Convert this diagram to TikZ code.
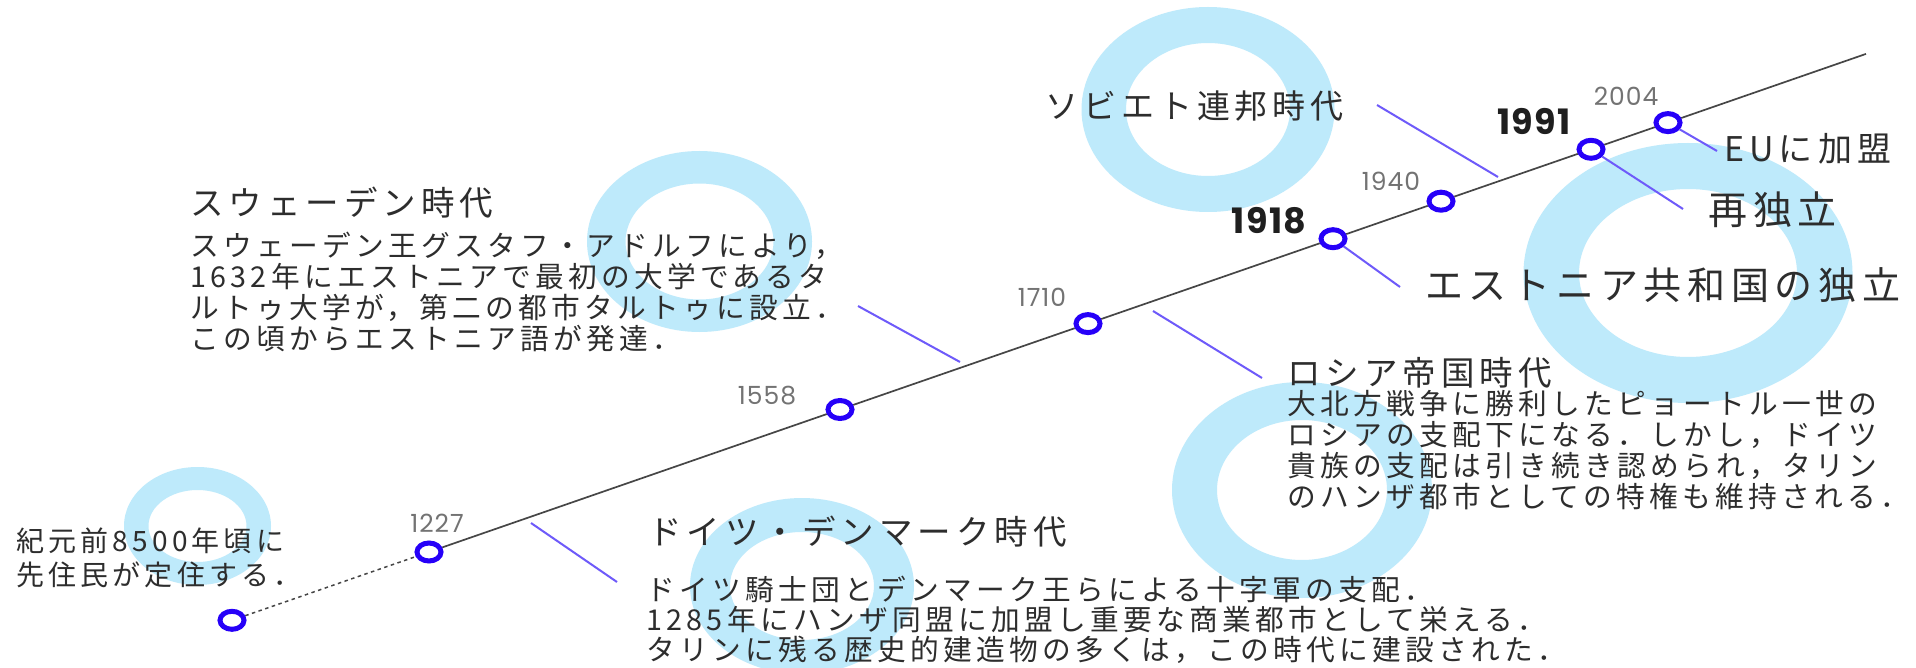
\documentclass[tikz,border=0pt]{standalone}
\usepackage{fontspec}
\usetikzlibrary{shapes.geometric}
\newfontfamily\jpfont{Noto Sans CJK JP}[LetterSpace=15]
\newfontfamily\yrfont{Poppins}[Numbers=Monospaced, LetterSpace=4]
\definecolor{ringblue}{RGB}{190,234,251}
\definecolor{dotblue}{RGB}{38,0,248}
\definecolor{connviolet}{RGB}{110,90,250}
\definecolor{linegray}{RGB}{70,70,70}
\definecolor{yeargray}{RGB}{115,115,115}
\definecolor{textdark}{RGB}{45,45,45}
\tikzset{
  ring/.style={fill=ringblue, even odd rule},
  tl/.style={draw=linegray, line width=1.7pt},
  tldash/.style={draw=linegray, line width=1.5pt, dash pattern=on 3.5pt off 3.5pt},
  dotnode/.style={ellipse, draw=dotblue, line width=5pt, fill=white, minimum width=24pt, minimum height=18pt, inner sep=0pt},
  conn/.style={draw=connviolet, line width=2pt},
  yr/.style={font=\yrfont\fontsize{25}{30}\selectfont, text=yeargray, inner sep=0pt},
  yrb/.style={font=\yrfont\bfseries\fontsize{35}{38}\selectfont, text=black!88, inner sep=0pt},
  jtxt/.style={text=textdark, inner sep=0pt, anchor=base west, align=left},
}
\begin{document}
\begin{tikzpicture}[x=1pt,y=-1pt]
\fill[white] (0,0) rectangle (1916,668);
\useasboundingbox (0,0) rectangle (1916,668);
% rings
\fill[ring] (197.5,526) ellipse [x radius=73.5pt, y radius=59pt] (197.5,526) ellipse [x radius=49pt, y radius=36pt];
\fill[ring] (699.5,241.5) ellipse [x radius=112.5pt, y radius=90.5pt] (699.5,241.5) ellipse [x radius=74pt, y radius=58pt];
\fill[ring] (802,586) ellipse [x radius=112pt, y radius=88pt] (802,586) ellipse [x radius=72pt, y radius=54pt];
\fill[ring] (1208,109.5) ellipse [x radius=126.5pt, y radius=102.5pt] (1208,109.5) ellipse [x radius=82pt, y radius=66.5pt];
\fill[ring] (1302,490) ellipse [x radius=130pt, y radius=108pt] (1302,490) ellipse [x radius=85pt, y radius=70pt];
\fill[ring] (1688,273) ellipse [x radius=164.5pt, y radius=130pt] (1688,273) ellipse [x radius=109pt, y radius=84pt];
% dots
\node[dotnode] (dstart) at (232,620.3) {};
\node[dotnode] (d1227) at (429,552) {};
\node[dotnode] (d1558) at (840,409.5) {};
\node[dotnode] (d1710) at (1088,323.6) {};
\node[dotnode] (d1918) at (1333,238.7) {};
\node[dotnode] (d1940) at (1441,201.2) {};
\node[dotnode] (d1991) at (1591,149.3) {};
\node[dotnode] (d2004) at (1668,122.6) {};
\coordinate (tend) at (1866,53.9);
% timeline
\draw[tldash] (dstart) -- (d1227);
\draw[tl] (d1227) -- (d1558) -- (d1710) -- (d1918) -- (d1940) -- (d1991) -- (d2004) -- (tend);
% connectors
\coordinate (c1227a) at (531,523); \coordinate (c1227b) at (617,582);
\coordinate (cSweA) at (858,306); \coordinate (cSweB) at (960,362);
\coordinate (cRusA) at (1153,311); \coordinate (cRusB) at (1262,378);
\coordinate (cSovA) at (1377,105); \coordinate (cSovB) at (1498,177);
\coordinate (c1918b) at (1400,287);
\coordinate (c1991b) at (1683,209);
\coordinate (c2004b) at (1717,151);
\draw[conn] (c1227a) -- (c1227b);
\draw[conn] (cSweA) -- (cSweB);
\draw[conn] (cRusA) -- (cRusB);
\draw[conn] (cSovA) -- (cSovB);
\draw[conn] (d1918) -- (c1918b);
\draw[conn] (d1991) -- (c1991b);
\draw[conn] (d2004) -- (c2004b);
% year labels
\node[yr] (y1227) at (437,523) {1227};
\node[yr] (y1558) at (767,396) {1558};
\node[yr] (y1710) at (1042,297) {1710};
\node[yr] (y1940) at (1391,181) {1940};
\node[yr] (y2004) at (1626,96) {2004};
\node[yrb] (y1918) at (1269,221) {1918};
\node[yrb] (y1991) at (1534,121) {1991};
% texts
\node[jtxt, font=\jpfont\fontsize{28}{34}\selectfont] (tPre) at (16,585.6) {紀元前8500年頃に\\先住民が定住する．};
\node[jtxt, font=\jpfont\fontsize{33.5}{40}\selectfont] (tSweT) at (190,215.7) {スウェーデン時代};
\node[jtxt, font=\jpfont\fontsize{28.7}{31}\selectfont] (tSweB) at (190,349) {スウェーデン王グスタフ・アドルフにより，\\1632年にエストニアで最初の大学であるタ\\ルトゥ大学が，第二の都市タルトゥに設立．\\この頃からエストニア語が発達．};
\node[jtxt, font=\jpfont\fontsize{33.5}{40}\selectfont] (tGerT) at (648,544) {ドイツ・デンマーク時代};
\node[jtxt, font=\jpfont\fontsize{28.7}{30}\selectfont] (tGerB) at (646,660) {ドイツ騎士団とデンマーク王らによる十字軍の支配．\\1285年にハンザ同盟に加盟し重要な商業都市として栄える．\\タリンに残る歴史的建造物の多くは，この時代に建設された．};
\node[jtxt, font=\jpfont\fontsize{33.5}{40}\selectfont] (tRusT) at (1287,385) {ロシア帝国時代};
\node[jtxt, font=\jpfont\fontsize{28.7}{31}\selectfont] (tRusB) at (1287,507) {大北方戦争に勝利したピョートル一世の\\ロシアの支配下になる．しかし，ドイツ\\貴族の支配は引き続き認められ，タリン\\のハンザ都市としての特権も維持される．};
\node[jtxt, font=\jpfont\fontsize{33}{40}\selectfont] (tSov) at (1045,118.5) {ソビエト連邦時代};
\node[jtxt, font=\jpfont\fontsize{38}{44}\selectfont] (tInd) at (1425,299.5) {エストニア共和国の独立};
\node[jtxt, font=\jpfont\fontsize{39}{44}\selectfont] (tReInd) at (1708,225) {再独立};
\node[jtxt, font=\jpfont\fontsize{34}{40}\selectfont] (tEU) at (1724,162) {EUに加盟};
\end{tikzpicture}
\end{document}
